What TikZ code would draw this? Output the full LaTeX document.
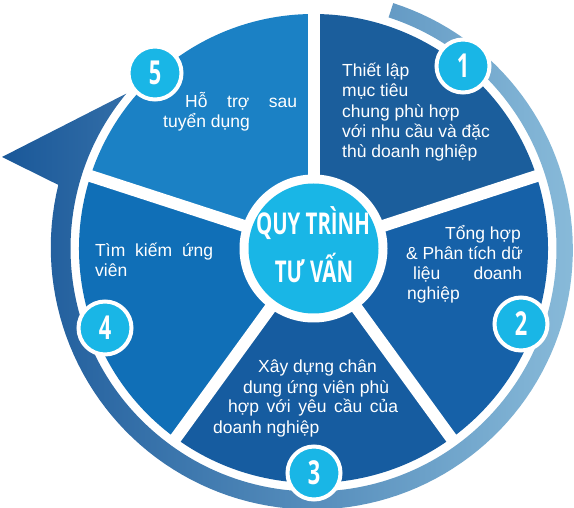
\documentclass[tikz,border=0pt]{standalone}
\usepackage{fontspec}
\setmainfont{Liberation Sans}
\newfontfamily\titlefont{Open Sans}
\usetikzlibrary{calc}
\definecolor{ringdark}{HTML}{1A5899}
\definecolor{ringlight}{HTML}{88BAD9}
\definecolor{segA}{HTML}{1B5E9C}
\definecolor{segB}{HTML}{1661A8}
\definecolor{segC}{HTML}{165CA0}
\definecolor{segD}{HTML}{106FB7}
\definecolor{segE}{HTML}{1B81C5}
\definecolor{cyanc}{HTML}{19B6E6}
\tikzset{
  badge/.style={circle, fill=cyanc, draw=white, line width=4pt, minimum size=53pt, inner sep=0pt, text=white,
    font=\titlefont\bfseries\fontsize{33}{33}\selectfont},
  txt/.style={text=white, inner sep=0pt, anchor=base west, font=\fontsize{17.5}{20}\selectfont},
  txtr/.style={txt, anchor=base east},
  ttl/.style={text=white, inner sep=0pt, font=\titlefont\bfseries\fontsize{30}{30}\selectfont},
  divider/.style={white, line width=12pt}
}
\newcommand{\cnd}[1]{\scalebox{0.66}[1]{#1}}
\newcommand{\cndt}[1]{\scalebox{0.68}[1]{#1}}
\begin{document}
\begin{tikzpicture}[x=1pt,y=1pt]
\useasboundingbox (0,0) rectangle (574,-508);
\coordinate (C) at (313.5,-248.5);
% outer ring with arrow
\shade[left color=ringdark, right color=ringlight]
  plot[domain=72:-194, samples=120] ({313.5+(258+(72-\x)*5/266)*cos(\x)}, {-248.5+(258+(72-\x)*5/266)*sin(\x)})
  -- (2,-157) -- ([shift={(C)}]140.4:243)
  arc[start angle=140.4-360, end angle=72, radius=243] -- cycle;
% segments
\fill[segA] (C) -- ([shift={(C)}]90:234.5) arc[start angle=90, end angle=18, radius=234.5] -- cycle;
\fill[segB] (C) -- ([shift={(C)}]18:234.5) arc[start angle=18, end angle=-54, radius=234.5] -- cycle;
\fill[segC] (C) -- ([shift={(C)}]-54:234.5) arc[start angle=-54, end angle=-126, radius=234.5] -- cycle;
\fill[segD] (C) -- ([shift={(C)}]-126:234.5) arc[start angle=-126, end angle=-198, radius=234.5] -- cycle;
\fill[segE] (C) -- ([shift={(C)}]162:234.5) arc[start angle=162, end angle=90, radius=234.5] -- cycle;
\foreach \a in {90,18,-54,-126,162}
  \draw[divider] (C) -- ([shift={(C)}]\a:238);
% center
\fill[white] (C) circle (74);
\node[circle, fill=cyanc, minimum size=130pt, inner sep=0pt] (hub) at (C) {};
\node[ttl] (title1) at (313,-223) {\cndt{QUY TRÌNH}};
\node[ttl] (title2) at (314,-268) {\cndt{TƯ VẤN}};
% badges
\node[badge] (b1) at (463,-66) {\cnd{1}};
\node[badge] (b2) at (521,-324) {\cnd{2}};
\node[badge] (b3) at (314,-473) {\cnd{3}};
\node[badge] (b4) at (105,-328) {\cnd{4}};
\node[badge] (b5) at (155,-73) {\cnd{5}};
% texts segment 1
\node[txt] (t1a) at (342,-77) {Thiết lập};
\node[txt] (t1b) at (342,-97) {mục tiêu};
\node[txt] (t1c) at (342,-118) {chung phù hợp};
\node[txt] (t1d) at (342,-138) {với nhu cầu và đặc};
\node[txt] (t1e) at (342,-158) {thù doanh nghiệp};
% segment 2
\node[txtr] (t2a) at (521,-240) {Tổng hợp};
\node[txtr] (t2b) at (523,-260) {\& Phân tích dữ};
\node[txt] (t2c) at (413,-280) {\makebox[109pt][s]{liệu doanh}};
\node[txt] (t2d) at (407,-300) {nghiệp};
% segment 3
\node[txt] (t3a) at (258,-373) {Xây dựng chân};
\node[txt] (t3b) at (243,-393) {dung ứng viên phù};
\node[txt] (t3c) at (228,-413) {\makebox[170pt][s]{hợp với yêu cầu của}};
\node[txt] (t3d) at (213,-433) {doanh nghiệp};
% segment 4
\node[txt] (t4a) at (95,-257) {\makebox[118pt][s]{Tìm kiếm ứng}};
\node[txt] (t4b) at (95,-277) {viên};
% segment 5
\node[txt] (t5a) at (185,-108) {\makebox[112pt][s]{Hỗ trợ sau}};
\node[txt] (t5b) at (163,-128) {tuyển dụng};
\end{tikzpicture}
\end{document}
